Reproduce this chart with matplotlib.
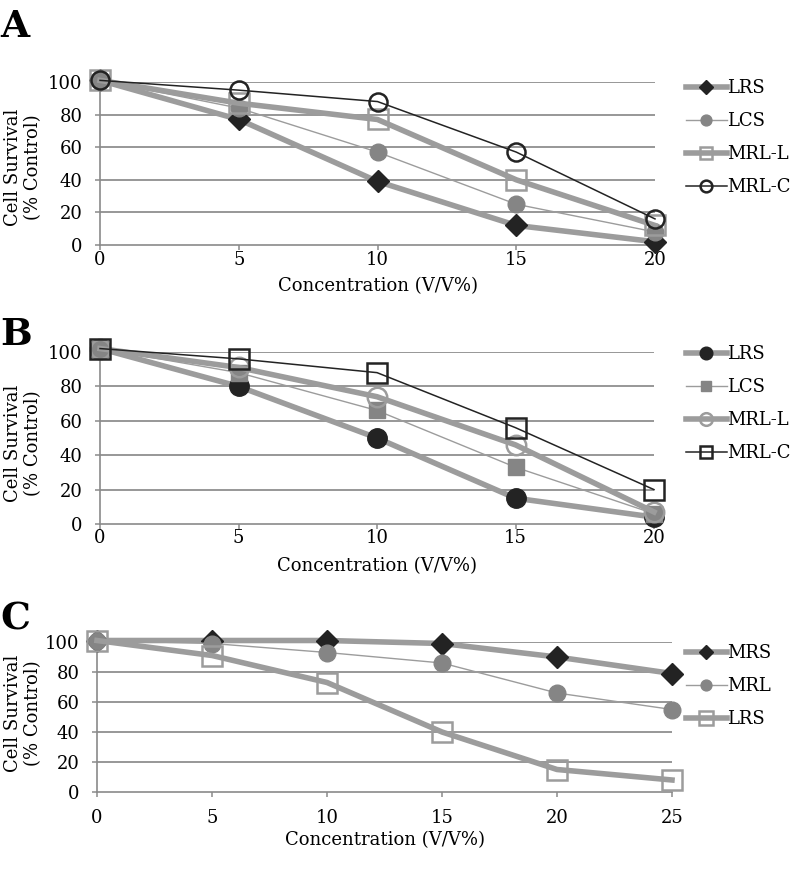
import matplotlib
matplotlib.use("Agg")
import matplotlib.pyplot as plt

# ---------- Data ----------
conc_ab = [0, 5, 10, 15, 20]
conc_c = [0, 5, 10, 15, 20, 25]

# Panel A
a_labels = ["LRS", "LCS", "MRL-L", "MRL-C"]
a_lrs = [101, 77, 39, 12, 2]
a_lcs = [101, 84, 57, 25, 8]
a_mrl_l = [101, 87, 77, 40, 12]
a_mrl_c = [101, 95, 88, 57, 16]

# Panel B
b_labels = ["LRS", "LCS", "MRL-L", "MRL-C"]
b_lrs = [102, 80, 50, 15, 4]
b_lcs = [102, 88, 66, 33, 6]
b_mrl_l = [102, 91, 74, 46, 7]
b_mrl_c = [102, 96, 88, 56, 20]

# Panel C
c_labels = ["MRS", "MRL", "LRS"]
c_mrs = [101, 101, 101, 99, 90, 79]
c_mrl = [101, 99, 93, 86, 66, 55]
c_lrs = [101, 91, 73, 40, 15, 8]

y_ticks = [0, 20, 40, 60, 80, 100]

# ---------- Styles ----------
DARK = "#232323"
MID = "#858585"
LINE_GRAY = "#9c9c9c"
GRID = "#7a7a7a"
FS = 13

thick_filled = dict(color=LINE_GRAY, lw=4, mec=DARK, mfc=DARK)
thin_gray = dict(color=LINE_GRAY, lw=1, mec=MID, mfc=MID)
thick_open = dict(color=LINE_GRAY, lw=4, mec=LINE_GRAY, mfc="none", mew=1.8)
thin_black_open = dict(color=DARK, lw=1.1, mec=DARK, mfc="none", mew=1.8)

plt.rcParams["font.family"] = "DejaVu Serif"

W, H = 794, 871
fig = plt.figure(figsize=(W / 100, H / 100), dpi=100)


def px_axes(left, right, top, bottom):
    return fig.add_axes([left / W, 1 - bottom / H, (right - left) / W, (bottom - top) / H])


def style_axes(ax, xvals, xmax, xpad, labelpad):
    ax.set_xlim(0, xmax)
    ax.set_ylim(0, 100)
    ax.set_xticks(xvals)
    ax.set_yticks(y_ticks)
    for y in y_ticks[1:]:
        ax.axhline(y, color=GRID, lw=1.1, zorder=0)
    for side in ("top", "right"):
        ax.spines[side].set_visible(False)
    for side in ("left", "bottom"):
        ax.spines[side].set_color("#8a8a8a")
        ax.spines[side].set_linewidth(1.2)
    ax.tick_params(axis="both", colors="#8a8a8a", length=3.5, width=1.1, labelsize=FS,
                   labelcolor="black")
    ax.tick_params(axis="y", pad=9)
    ax.tick_params(axis="x", pad=xpad)
    ax.set_xlabel("Concentration (V/V%)", fontsize=FS, labelpad=labelpad)
    ax.patch.set_alpha(0)


def add_legend(ax, top_px):
    ax.legend(loc="upper left", bbox_to_anchor=(686 / W, 1 - top_px / H),
              bbox_transform=fig.transFigure, frameon=False, fontsize=FS,
              handlelength=2.25, handletextpad=0.05, borderpad=0, borderaxespad=0,
              labelspacing=0.83, markerscale=0.65)


def draw(ax, x, y, marker, ms, style, label):
    ax.plot(x, y, marker=marker, ms=ms, label=label, clip_on=False, zorder=3, **style)


# ---------- Panel A ----------
ax_a = px_axes(100, 655, 82, 245)
style_axes(ax_a, conc_ab, 20, 0.5, 6)
draw(ax_a, conc_ab, a_lrs, "D", 11, thick_filled, a_labels[0])
draw(ax_a, conc_ab, a_lcs, "o", 12, thin_gray, a_labels[1])
draw(ax_a, conc_ab, a_mrl_l, "s", 14, thick_open, a_labels[2])
draw(ax_a, conc_ab, a_mrl_c, "o", 13, thin_black_open, a_labels[3])
add_legend(ax_a, 79)

# ---------- Panel B ----------
ax_b = px_axes(100, 654, 352, 524)
style_axes(ax_b, conc_ab, 20, 0, 7)
draw(ax_b, conc_ab, b_lrs, "o", 14, thick_filled, b_labels[0])
draw(ax_b, conc_ab, b_lcs, "s", 12, thin_gray, b_labels[1])
draw(ax_b, conc_ab, b_mrl_l, "o", 14, thick_open, b_labels[2])
draw(ax_b, conc_ab, b_mrl_c, "s", 14, thin_black_open, b_labels[3])
add_legend(ax_b, 345)

# ---------- Panel C ----------
ax_c = px_axes(97, 672, 642, 792)
style_axes(ax_c, conc_c, 25, 9, 3)
draw(ax_c, conc_c, c_mrs, "D", 11, thick_filled, c_labels[0])
draw(ax_c, conc_c, c_mrl, "o", 12, thin_gray, c_labels[1])
draw(ax_c, conc_c, c_lrs, "s", 15, thick_open, c_labels[2])
add_legend(ax_c, 644)

# ---------- Panel letters and y labels ----------
for letter, top in (("A", 8), ("B", 316), ("C", 600)):
    fig.text(0, 1 - top / H, letter, fontsize=27, fontweight="bold", va="top", ha="left")

for center in (167, 443, 713):
    fig.text(23 / W, 1 - center / H, "Cell Survival\n(% Control)", rotation=90,
             fontsize=FS, ha="center", va="center", linespacing=1.1)

fig.savefig("out.png", dpi=100)
